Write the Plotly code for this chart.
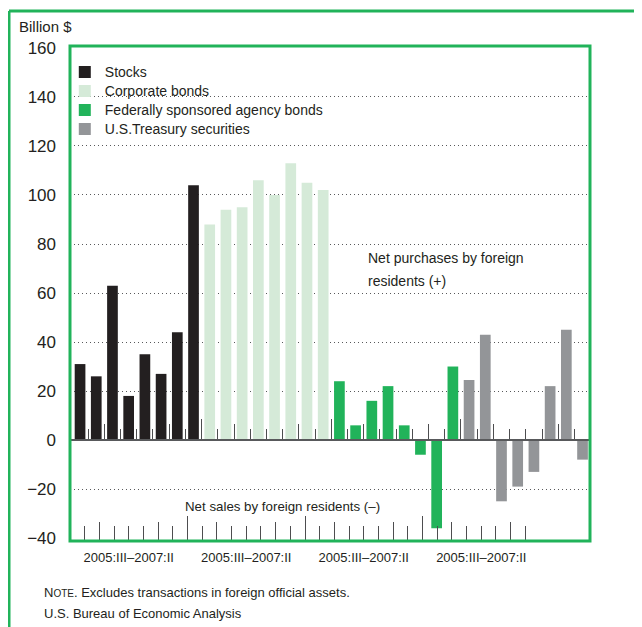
import plotly.graph_objects as go

# ---------------- data ----------------
quarters = ["2005:III", "2005:IV", "2006:I", "2006:II", "2006:III", "2006:IV", "2007:I", "2007:II"]
series_names = ["Stocks", "Corporate bonds", "Federally sponsored agency bonds", "U.S.Treasury securities"]
stocks = [31, 26, 63, 18, 35, 27, 44, 104]
corporate_bonds = [88, 94, 95, 106, 100, 113, 105, 102]
agency_bonds = [24, 6, 16, 22, 6, -6, -36, 30]
treasury = [24.5, 43, -25, -19, -13, 22, 45, -8]
group_label = "2005:III\u20132007:II"
y_ticks = [-40, -20, 0, 20, 40, 60, 80, 100, 120, 140, 160]

series_values = [stocks, corporate_bonds, agency_bonds, treasury]
colors = ["#231f20", "#d5ead8", "#21b35a", "#939598"]

n_q = len(quarters)
n_all = n_q * len(series_values)

FONT = "Liberation Sans, Arial, Helvetica, sans-serif"
TXT = "#231f20"
GREEN = "#21b35a"
TICKC = "#4d4d4f"

fig = go.Figure()
for k, (name, vals, col) in enumerate(zip(series_names, series_values, colors)):
    xs = [k * n_q + j for j in range(n_q)]
    fig.add_trace(go.Bar(
        x=xs, y=vals, name=f"<span style='font-size:14px'>{name}</span>",
        marker=dict(color=col, line=dict(width=0)),
        width=0.66, customdata=[f"{name} {q}" for q in quarters],
        hovertemplate="%{customdata}: %{y}<extra></extra>",
    ))

# tick positions (slot boundaries)
bounds = [i + 0.5 for i in range(n_all - 1)]
group_b = [b for b in bounds if (b + 0.5) % n_q == 0]
year_b = [b for b in bounds if (b + 0.5) % n_q in (2, 6)]
short_b = [b for b in bounds if b not in group_b and b not in year_b]
label_pos = [k * n_q + (n_q - 1) / 2 for k in range(len(series_values))]

# helper traces so that the overlaid tick axes get drawn
for ax in ["x2", "x3", "x4", "x5"]:
    fig.add_trace(go.Scatter(x=[0], y=[0], xaxis=ax, yaxis="y", mode="markers",
                             marker=dict(opacity=0, size=1), showlegend=False,
                             hoverinfo="skip"))

W, H = 634, 619
L, R, T, B = 62, 52, 38, 86
PW, PH = W - L - R, H - T - B

yr = [-41.2, 160.8]
zero_pos = (0 - yr[0]) / (yr[1] - yr[0])
xr_bars = [-0.62, 31.46]
xr_bottom = [-0.5, 34.9]

fig.update_layout(
    width=W, height=H,
    margin=dict(l=L, r=R, t=T, b=B, pad=0),
    paper_bgcolor="white", plot_bgcolor="white",
    barmode="overlay",
    font=dict(family=FONT, color=TXT, size=14),
    showlegend=True,
    legend=dict(x=-0.01, y=0.977, xanchor="left", yanchor="top",
                bgcolor="rgba(0,0,0,0)", font=dict(size=12, color=TXT),
                traceorder="normal", tracegroupgap=0, itemclick=False),
    xaxis=dict(range=xr_bars, showticklabels=False, ticks="", showgrid=False,
               zeroline=False, showline=False, fixedrange=True),
    xaxis2=dict(overlaying="x", range=xr_bars, anchor="free", position=zero_pos, side="top",
                showticklabels=False, showgrid=False, zeroline=False, showline=False,
                tickmode="array", tickvals=group_b, ticks="outside", ticklen=21,
                tickwidth=1.2, tickcolor=TICKC, fixedrange=True,
                minor=dict(tickmode="array", tickvals=short_b, ticks="outside", ticklen=11,
                           tickwidth=1.2, tickcolor=TICKC, showgrid=False)),
    xaxis3=dict(overlaying="x", range=xr_bars, anchor="free", position=zero_pos, side="top",
                showticklabels=False, showgrid=False, zeroline=False, showline=False,
                tickmode="array", tickvals=year_b, ticks="outside", ticklen=16,
                tickwidth=1.2, tickcolor=TICKC, fixedrange=True),
    xaxis4=dict(overlaying="x", range=xr_bottom, anchor="y", side="bottom",
                showticklabels=False, showgrid=False, zeroline=False, showline=False,
                tickmode="array", tickvals=group_b, ticks="inside", ticklen=25,
                tickwidth=1.3, tickcolor=TICKC, fixedrange=True,
                minor=dict(tickmode="array", tickvals=short_b, ticks="inside", ticklen=15,
                           tickwidth=1.3, tickcolor=TICKC, showgrid=False)),
    xaxis5=dict(overlaying="x", range=xr_bottom, anchor="y", side="bottom",
                showgrid=False, zeroline=False, showline=False, fixedrange=True,
                tickmode="array", tickvals=label_pos, ticktext=[group_label] * len(label_pos),
                ticks="", ticklabelstandoff=7, tickfont=dict(size=13, color=TXT),
                minor=dict(tickmode="array", tickvals=year_b, ticks="inside", ticklen=19,
                           tickwidth=1.3, tickcolor=TICKC, showgrid=False)),
    yaxis=dict(range=yr, tickmode="array", tickvals=y_ticks, ticks="", ticklabelstandoff=13,
               tickfont=dict(size=17, color=TXT), showgrid=False, zeroline=False,
               showline=False, fixedrange=True,
               minor=dict(tickmode="array", tickvals=[v for v in y_ticks if v not in (0, -40, 160)],
                          showgrid=True, griddash="1px,3px", gridcolor="#58595b", gridwidth=1)),
)

# zero line, inner frame, outer frame
fig.add_shape(type="line", xref="paper", yref="y", x0=0, x1=1, y0=0, y1=0,
              line=dict(color="#58595b", width=2), layer="above")
fig.add_shape(type="rect", xref="paper", yref="paper", x0=0, x1=1, y0=0, y1=1,
              line=dict(color=GREEN, width=3), layer="above")
ox = (1 - L) / PW
oy = 1 + (T - 3) / PH
fig.add_shape(type="line", xref="paper", yref="paper", x0=ox, x1=ox, y0=-1, y1=oy,
              line=dict(color=GREEN, width=3))
fig.add_shape(type="line", xref="paper", yref="paper", x0=ox, x1=2, y0=oy, y1=oy,
              line=dict(color=GREEN, width=3))

def px_x(x):  # reference pixel -> paper
    return (x - 8 - L) / PW

def px_y(y):
    return 1 - (y - 8 - T) / PH

def ann(text, x, y, size=14):
    fig.add_annotation(text=text, xref="paper", yref="paper", x=px_x(x), y=px_y(y),
                       xanchor="left", yanchor="middle", showarrow=False, align="left",
                       font=dict(size=size, color=TXT, family=FONT))

ann("Billion $", 17, 27, size=15)
ann("Net purchases by foreign", 366, 258)
ann("residents (+)", 366, 281)
ann("Net sales by foreign residents (\u2013)", 183, 506, size=13.3)
ann("N<span style='font-size:10px'>OTE</span>. Excludes transactions in foreign official assets.",
    42, 592, size=13)
ann("U.S. Bureau of Economic Analysis", 42, 613, size=13)

fig.write_html("out.html")
